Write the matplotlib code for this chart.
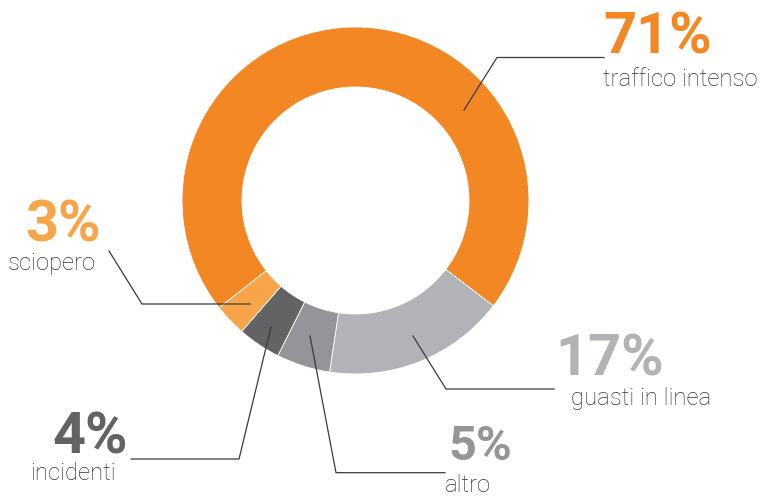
import matplotlib
matplotlib.use("Agg")
import matplotlib.pyplot as plt

# data
labels = ["traffico intenso", "guasti in linea", "altro", "incidenti", "sciopero"]
values = [71, 17, 5, 4, 3]
colors = ["#F38724", "#B2B3B6", "#949598", "#636365", "#F8A54A"]

H = 497  # work in pixel coords, y flipped


def py(y):
    return H - y


fig = plt.figure(figsize=(7.62, 4.97), dpi=100)
ax = fig.add_axes([0, 0, 1, 1])
ax.set_xlim(0, 762)
ax.set_ylim(0, H)
ax.set_aspect("equal")
ax.axis("off")

ax.pie(values, colors=colors, startangle=218.2, counterclock=False,
       center=(355.5, py(200.5)), radius=173.5,
       wedgeprops=dict(width=60, edgecolor="white", linewidth=0.6))
ax.set_xlim(0, 762)
ax.set_ylim(0, H)

# leader lines (pixel layout)
leaders = [
    [(464, 110), (497, 57.5), (604, 57.5)],
    [(413, 336), (446, 389), (554, 389)],
    [(310, 336), (336, 472.7), (445, 472.7)],
    [(271, 327), (239, 459), (131, 459)],
    [(250, 304), (142, 304), (109, 251)],
]
for pts in leaders:
    ax.plot([p[0] for p in pts], [py(p[1]) for p in pts],
            color="#3a3a3a", lw=0.9, solid_joinstyle="miter")

# text layout: (pct x, pct baseline, pct size, label x, label baseline)
layout = [
    (603, 53, 41.5, 603, 86),
    (555, 375, 41.5, 571, 405),
    (448, 460, 35, 445, 492),
    (52, 453, 41.5, 30, 480),
    (25, 242, 41.5, 8, 270),
]
for lab, v, c, (px, pb, ps, lx, lb) in zip(labels, values, colors, layout):
    ax.text(px, py(pb), f"{v}%", color=c, fontsize=ps, fontweight="bold",
            family="Roboto", ha="left", va="baseline")
    ax.text(lx, py(lb), lab, color="#333333", fontsize=17.2, fontweight="light",
            family="Roboto", ha="left", va="baseline")

fig.savefig("out.png", dpi=100)
